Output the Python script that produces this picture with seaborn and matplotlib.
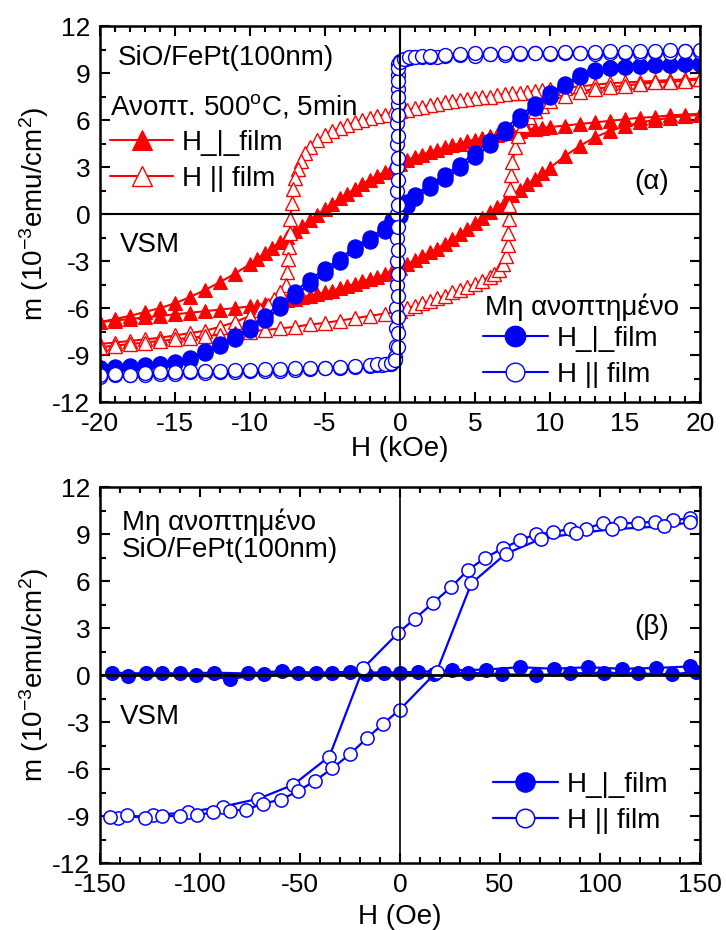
import matplotlib
matplotlib.use("Agg")
import matplotlib.pyplot as plt
import pandas as pd
import seaborn as sns
from matplotlib.ticker import MultipleLocator

# ---------------- panel (α): field in kOe ----------------
# annealed film, H perpendicular (filled triangles); both branches on one field grid
h_red = [-20, -19, -18, -17, -16, -15, -14, -13, -12, -11, -10,
         -9.5, -9, -8.5, -8, -7.5, -7, -6.5, -6, -5.5, -5, -4.5, -4, -3.5, -3,
         -2.5, -2, -1.5, -1, -0.5, 0, 0.5, 1, 1.5, 2, 2.5, 3, 3.5, 4, 4.5, 5,
         5.5, 6, 6.5, 7, 7.5, 8, 8.5, 9, 9.5,
         10, 11, 12, 13, 14, 15, 16, 17, 18, 19, 20]
m_red_perp_up = [-6.9, -6.8, -6.7, -6.6, -6.5, -6.4, -6.3, -6.2, -6.1, -6.0, -5.9,
                 -5.85, -5.75, -5.7, -5.6, -5.5, -5.4, -5.3, -5.2, -5.1, -5.0, -4.9, -4.75, -4.6, -4.45,
                 -4.3, -4.15, -4.0, -3.85, -3.65, -3.45, -3.2, -2.95, -2.7, -2.45, -2.2, -1.9, -1.6, -1.3, -0.95, -0.6,
                 -0.25, 0.1, 0.45, 0.8, 1.2, 1.55, 1.9, 2.25, 2.6,
                 2.95, 3.7, 4.35, 4.9, 5.3, 5.6, 5.85, 6.0, 6.15, 6.25, 6.35]
m_red_perp_down = [-6.9, -6.7, -6.5, -6.25, -6.0, -5.7, -5.3, -4.85, -4.35, -3.8, -3.2,
                   -2.85, -2.5, -2.15, -1.8, -1.45, -1.1, -0.75, -0.4, -0.05, 0.3, 0.65, 1.0, 1.3, 1.6,
                   1.9, 2.2, 2.45, 2.7, 2.95, 3.2, 3.45, 3.65, 3.8, 3.95, 4.1, 4.25, 4.4, 4.5, 4.65, 4.75,
                   4.85, 4.95, 5.05, 5.15, 5.25, 5.3, 5.4, 5.45, 5.5,
                   5.55, 5.65, 5.75, 5.85, 5.95, 6.05, 6.15, 6.2, 6.3, 6.35, 6.4]

# annealed film, H in plane (open triangles)
h_red_par_up = [-20, -19, -18, -17, -16, -15, -14, -13, -12, -11, -10, -9, -8, -7, -6, -5, -4, -3, -2, -1,
                0, 0.5, 1, 1.5, 2, 2.5, 3, 3.5, 4, 4.5, 5, 5.5, 6,
                6.3, 6.6, 6.9, 7.1, 7.2, 7.22, 7.25, 7.3, 7.35, 7.4, 7.5, 7.7, 7.9, 8.2, 8.6, 9, 9.5, 10,
                11, 12, 13, 14, 15, 16, 17, 18, 19, 20]
m_red_par_up = [-8.5, -8.4, -8.3, -8.2, -8.1, -8.0, -7.9, -7.8, -7.7, -7.6, -7.5, -7.4, -7.3, -7.2, -7.05, -6.95, -6.8, -6.65, -6.5, -6.35,
                -6.2, -6.0, -5.85, -5.7, -5.55, -5.35, -5.2, -5.0, -4.85, -4.65, -4.45, -4.25, -4.0,
                -3.8, -3.55, -3.2, -2.7, -2.0, -1.2, -0.3, 0.6, 1.6, 2.5, 3.3, 4.3, 5.0, 5.7, 6.2, 6.6, 6.9, 7.2,
                7.55, 7.8, 8.0, 8.1, 8.2, 8.3, 8.4, 8.45, 8.5, 8.6]
h_red_par_down = [20, 19, 18, 17, 16, 15, 14, 13, 12, 11, 10,
                  9.5, 9, 8.5, 8, 7.5, 7, 6.5, 6, 5.5, 5, 4.5, 4, 3.5, 3, 2.5, 2, 1.5, 1, 0.5, 0,
                  -0.5, -1, -1.5, -2, -2.5, -3, -3.5, -4, -4.5, -5, -5.5, -6,
                  -6.3, -6.6, -6.8, -7.0, -7.1, -7.2, -7.3, -7.35, -7.4, -7.45, -7.5, -7.6, -8.0, -8.4, -8.8, -9.3,
                  -10, -11, -12, -13, -14, -15, -16, -17, -18, -19, -20]
m_red_par_down = [8.65, 8.6, 8.55, 8.5, 8.45, 8.4, 8.35, 8.25, 8.15, 8.05, 7.95,
                  7.9, 7.85, 7.8, 7.75, 7.7, 7.65, 7.6, 7.5, 7.45, 7.4, 7.35, 7.3, 7.2, 7.15, 7.05, 6.95, 6.85, 6.75, 6.65, 6.55,
                  6.45, 6.35, 6.25, 6.1, 6.0, 5.85, 5.7, 5.5, 5.3, 5.05, 4.7, 4.25,
                  3.9, 3.4, 2.9, 2.3, 1.6, 0.7, -0.3, -1.2, -2.1, -2.9, -3.7, -4.5, -5.0, -5.4, -5.8, -6.1,
                  -6.5, -6.9, -7.2, -7.45, -7.6, -7.75, -7.9, -8.0, -8.1, -8.2, -8.3]

# as-deposited film, H perpendicular (filled circles); both branches on one field grid
h_blue = [-20, -19, -18, -17, -16, -15, -14, -13, -12, -11, -10, -9, -8, -7, -6, -5, -4, -3, -2, -1,
          -0.5, 0, 0.5,
          1, 2, 3, 4, 5, 6, 7, 8, 9, 10, 11, 12, 13, 14, 15, 16, 17, 18, 19, 20]
m_blue_perp_up = [-9.85, -9.8, -9.75, -9.7, -9.6, -9.5, -9.3, -8.85, -8.45, -7.95, -7.4, -6.75, -6.0, -5.2, -4.45, -3.75, -3.05, -2.3, -1.7, -1.1,
                  -0.7, -0.1, 0.5,
                  1.0, 1.65, 2.25, 2.95, 3.65, 4.4, 5.2, 6.0, 6.75, 7.5, 8.15, 8.75, 9.15, 9.3, 9.4, 9.45, 9.5, 9.5, 9.55, 9.55]
m_blue_perp_down = [-9.8, -9.75, -9.7, -9.65, -9.55, -9.45, -9.2, -8.75, -8.3, -7.8, -7.2, -6.5, -5.75, -4.95, -4.2, -3.5, -2.85, -2.1, -1.5, -0.9,
                    -0.4, 0.3, 0.8,
                    1.2, 1.9, 2.5, 3.15, 3.9, 4.65, 5.45, 6.25, 7.0, 7.7, 8.3, 8.85, 9.2, 9.35, 9.4, 9.45, 9.5, 9.5, 9.55, 9.55]

# as-deposited film, H in plane (open circles)
h_blue_par_down = [20, 19, 18, 17, 16, 15, 14, 13, 12, 11, 10, 9, 8, 7, 6, 5, 4, 3,
                   2.5, 2, 1.5, 1, 0.7, 0.4, 0.2, 0.0,
                   -0.1, -0.15, -0.15, -0.15, -0.2, -0.2, -0.2, -0.2, -0.2, -0.2, -0.2, -0.2, -0.25, -0.25, -0.25,
                   -0.3, -0.4, -0.6, -0.9, -1.2, -1.6, -2,
                   -3, -4, -5, -6, -7, -8, -9, -10, -11, -12, -13, -14, -15, -16, -17, -18, -19, -20]
m_blue_par_down = [10.35, 10.4, 10.3, 10.35, 10.3, 10.25, 10.3, 10.2, 10.3, 10.25, 10.2, 10.25, 10.2, 10.15, 10.2, 10.1, 10.15, 10.1,
                   10.0, 10.05, 10.0, 10.0, 9.95, 9.9, 9.85, 9.75,
                   9.6, 8.9, 8.0, 7.0, 5.8, 4.5, 3.0, 1.5, 0.0, -1.5, -3.0, -4.5, -6.0, -7.3, -8.4,
                   -9.1, -9.4, -9.55, -9.6, -9.65, -9.65, -9.7,
                   -9.75, -9.8, -9.85, -9.9, -9.95, -10.0, -10.0, -10.05, -10.1, -10.1, -10.15, -10.1, -10.2, -10.2, -10.25, -10.3, -10.3, -10.4]
h_blue_par_up = [-20, -19, -18, -17, -16, -15, -14, -13, -12, -11, -10, -9, -8, -7, -6, -5, -4, -3, -2,
                 -1.5, -1, -0.6, -0.3, -0.15,
                 -0.1, -0.1, -0.1, -0.1, -0.1, -0.1, -0.1, -0.1, -0.1, -0.1, -0.1,
                 -0.15, -0.15, -0.1,
                 0.0, 0.3, 0.6, 1.0, 1.5, 2,
                 3, 4, 5, 6, 7, 8, 9, 10, 11, 12, 13, 14, 15, 16, 17, 18, 19, 20]
m_blue_par_up = [-10.3, -10.2, -10.25, -10.15, -10.1, -10.1, -10.05, -10.0, -10.05, -9.95, -9.95, -9.9, -9.9, -9.85, -9.85, -9.8, -9.75, -9.7, -9.65,
                 -9.6, -9.6, -9.5, -9.3, -8.5,
                 -7.6, -6.6, -5.2, -3.8, -2.3, -0.8, 0.6, 2.2, 3.6, 5.0, 6.3,
                 7.5, 8.5, 9.3,
                 9.7, 9.9, 10.0, 10.05, 10.1, 10.1,
                 10.15, 10.2, 10.25, 10.2, 10.25, 10.3, 10.25, 10.3, 10.35, 10.3, 10.35, 10.4, 10.35, 10.4, 10.4, 10.45, 10.4, 10.45]

# ---------------- panel (β): as-deposited film, field in Oe ----------------
h_low_par_down = [145, 136.7, 127.5, 119, 110, 101.7, 93, 85, 76.5, 68, 60, 51.5, 42.3, 34, 25.5, 16.5, 7.5, -0.8,
                  -18.3, -35.3, -53.3, -70.8, -88.7, -106, -123.5, -141]
m_low_par_down = [10.0, 9.9, 9.8, 9.7, 9.7, 9.7, 9.35, 9.35, 9.1, 9.0, 8.6, 8.1, 7.45, 6.7, 5.6, 4.6, 3.6, 2.7,
                  0.45, -5.2, -7.0, -7.9, -8.4, -8.75, -8.95, -9.1]
h_low_par_up = [-145, -136.7, -127.5, -119, -110, -101.7, -93.3, -85, -77, -68.3, -59.5, -50.8, -42.5, -33.8, -25, -16.7, -8.3, 0,
                18.3, 35.7, 53, 70.7, 88, 106, 132, 145]
m_low_par_up = [-9.05, -8.95, -9.15, -9.0, -9.0, -8.95, -8.75, -8.65, -8.6, -8.2, -7.95, -7.4, -6.75, -5.95, -5.05, -4.05, -3.1, -2.2,
                0.2, 5.85, 7.75, 8.7, 9.05, 9.3, 9.5, 9.75]
h_low_perp_down = [145, 128, 111, 94, 77, 60, 43, 26, 9, -8, -25, -42, -59, -76, -93, -110, -127, -144]
m_low_perp_down = [0.55, 0.45, 0.4, 0.5, 0.4, 0.5, 0.35, 0.3, 0.2, 0.15, 0.2, 0.15, 0.25, 0.1, 0.15, 0.1, 0.1, 0.15]
h_low_perp_up = [-136, -119, -102, -85, -68, -51, -34, -17, 0, 17, 34, 51, 68, 85, 102, 119, 136, 148]
m_low_perp_up = [-0.05, 0.1, 0.0, -0.25, 0.05, 0.1, 0.1, 0.05, 0.1, 0.05, 0.15, 0.05, 0.0, 0.1, 0.15, 0.1, 0.05, 0.2]

label_perp = "H_|_film"
label_par = "H || film"
y_label = r"m (10$^{\mathregular{-3}}$emu/cm$^{\mathregular{2}}$)"

RED = "#ff0000"
BLUE = "#0000ff"

sns.set_theme(style="ticks")
plt.rcParams.update({
    "font.family": ["Liberation Sans", "DejaVu Sans"],
    "mathtext.fontset": "custom",
    "mathtext.rm": "Liberation Sans",
    "mathtext.it": "Liberation Sans:italic",
    "mathtext.bf": "Liberation Sans:bold",
    "axes.unicode_minus": False,
    "axes.linewidth": 1.8,
    "axes.edgecolor": "black",
    "axes.facecolor": "white",
    "figure.facecolor": "white",
    "text.color": "black",
    "axes.labelcolor": "black",
})

fig = plt.figure(figsize=(7.26, 9.30), dpi=100)
ax1 = fig.add_axes([0.1377, 0.5677, 0.8264, 0.4043])
ax2 = fig.add_axes([0.1377, 0.0720, 0.8264, 0.4043])


def draw_loop(ax, h_down, m_down, h_up, m_up, **style):
    """Plot a full loop: descending branch followed by the ascending one."""
    df = pd.DataFrame({"H": list(h_down) + list(h_up),
                       "m": list(m_down) + list(m_up)})
    sns.lineplot(data=df, x="H", y="m", sort=False, estimator=None,
                 errorbar=None, legend=False, ax=ax, **style)
    return ax.lines[-1]


# ---- panel (α) ----
red_perp = draw_loop(ax1, h_red[::-1], m_red_perp_down[::-1], h_red, m_red_perp_up,
                     color=RED, linewidth=1.5, marker="^", markersize=10,
                     markerfacecolor=RED, markeredgecolor=RED, markeredgewidth=0.8)
red_par = draw_loop(ax1, h_red_par_down, m_red_par_down, h_red_par_up, m_red_par_up,
                    color=RED, linewidth=1.5, marker="^", markersize=10,
                    markerfacecolor="white", markeredgecolor=RED, markeredgewidth=1.0)
blue_perp = draw_loop(ax1, h_blue[::-1], m_blue_perp_down[::-1], h_blue, m_blue_perp_up,
                      color=BLUE, linewidth=1.5, marker="o", markersize=11,
                      markerfacecolor=BLUE, markeredgecolor=BLUE, markeredgewidth=0.8)
blue_par = draw_loop(ax1, h_blue_par_down, m_blue_par_down, h_blue_par_up, m_blue_par_up,
                     color=BLUE, linewidth=1.5, marker="o", markersize=10,
                     markerfacecolor="white", markeredgecolor=BLUE, markeredgewidth=1.0)

# ---- panel (β) ----
low_perp = draw_loop(ax2, h_low_perp_down, m_low_perp_down, h_low_perp_up, m_low_perp_up,
                     color=BLUE, linewidth=1.6, marker="o", markersize=10,
                     markerfacecolor=BLUE, markeredgecolor=BLUE, markeredgewidth=0.8)
low_par = draw_loop(ax2, h_low_par_down, m_low_par_down, h_low_par_up, m_low_par_up,
                    color=BLUE, linewidth=1.6, marker="o", markersize=9.5,
                    markerfacecolor="white", markeredgecolor=BLUE, markeredgewidth=1.1)

for ax, (xmin, xmax, xmaj, xmin_step), zlw in (
        (ax1, (-20, 20, 5, 1), (1.5, 1.5)),
        (ax2, (-150, 150, 50, 10), (2.0, 1.2))):
    ax.set_xlim(xmin, xmax)
    ax.set_ylim(-12, 12)
    ax.xaxis.set_major_locator(MultipleLocator(xmaj))
    ax.xaxis.set_minor_locator(MultipleLocator(xmin_step))
    ax.yaxis.set_major_locator(MultipleLocator(3))
    ax.yaxis.set_minor_locator(MultipleLocator(1.5))
    ax.tick_params(which="both", direction="in", top=True, right=True,
                   labeltop=False, labelright=False, width=1.5, color="black",
                   labelsize=19, pad=7, labelcolor="black")
    ax.tick_params(which="major", length=7.5)
    ax.tick_params(which="minor", length=4)
    ax.axhline(0, color="black", linewidth=zlw[0], zorder=6)
    ax.axvline(0, color="black", linewidth=zlw[1], zorder=6)
    ax.set_ylabel(y_label, fontsize=20, labelpad=1)
    for sp in ax.spines.values():
        sp.set_linewidth(1.8)
        sp.set_color("black")

ax1.set_xlabel("H (kOe)", fontsize=20, labelpad=0.5)
ax2.set_xlabel("H (Oe)", fontsize=20, labelpad=5)

TXT = dict(fontsize=20, ha="left", va="center")
ax1.text(0.03, 0.915, "SiO/FePt(100nm)", transform=ax1.transAxes, **TXT)
ax1.text(0.017, 0.785, r"Ανοπτ. 500$^{\mathregular{o}}$C, 5min", transform=ax1.transAxes, **TXT)
ax1.text(0.92, 0.585, "(α)", transform=ax1.transAxes, fontsize=20, ha="center", va="center")
ax1.text(0.033, 0.418, "VSM", transform=ax1.transAxes, **TXT)
ax1.text(0.642, 0.253, "Μη ανοπτημένο", transform=ax1.transAxes, **TXT)

ax2.text(0.037, 0.907, "Μη ανοπτημένο", transform=ax2.transAxes, **TXT)
ax2.text(0.037, 0.832, "SiO/FePt(100nm)", transform=ax2.transAxes, **TXT)
ax2.text(0.92, 0.628, "(β)", transform=ax2.transAxes, fontsize=20, ha="center", va="center")
ax2.text(0.033, 0.388, "VSM", transform=ax2.transAxes, **TXT)

LEG = dict(loc="upper left", frameon=False, fontsize=20, numpoints=1,
           borderpad=0, borderaxespad=0, labelspacing=0.35, handletextpad=0.32)
leg_a1 = ax1.legend([red_perp, red_par], [label_perp, label_par],
                    bbox_to_anchor=(0.0167, 0.723), handlelength=2.27, markerscale=1.4, **LEG)
ax1.add_artist(leg_a1)
ax1.legend([blue_perp, blue_par], [label_perp, label_par],
           bbox_to_anchor=(0.638, 0.202), handlelength=2.34, markerscale=1.35, **LEG)
ax2.legend([low_perp, low_par], [label_perp, label_par],
           bbox_to_anchor=(0.655, 0.242), handlelength=2.34, markerscale=1.4, **LEG)

fig.savefig("out.png", dpi=100)
